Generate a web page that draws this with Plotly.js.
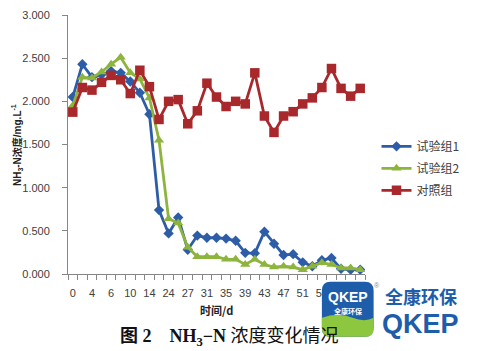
<!DOCTYPE html>
<html>
<head>
<meta charset="utf-8">
<script src="https://cdn.plot.ly/plotly-3.0.1.min.js"></script>
<style>html,body{margin:0;padding:0;background:#fff;}#chart{width:477px;height:351px;}</style>
</head>
<body>
<div id="chart"></div>
<script>
// ---- data ----
const days = ['0','2','4','5','6','8','10','12','14','19','24','25','27','29','31','33','35','37','39','41','43','45','47','49','51','53','55','57','59','61','63'];
const tickDays = ['0','4','6','10','14','24','27','31','35','39','43','47','51','55'];
const group1 = [2.05,2.43,2.28,2.31,2.35,2.33,2.23,2.10,1.85,0.74,0.47,0.655,0.28,0.445,0.42,0.42,0.41,0.385,0.245,0.24,0.49,0.35,0.22,0.23,0.135,0.09,0.16,0.185,0.06,0.05,0.05];
const group2 = [1.95,2.28,2.27,2.34,2.43,2.51,2.33,2.26,2.04,1.55,0.64,0.59,0.31,0.20,0.20,0.20,0.17,0.17,0.11,0.17,0.11,0.08,0.09,0.08,0.05,0.09,0.13,0.11,0.07,0.07,0.05];
const control = [1.875,2.16,2.13,2.22,2.30,2.25,2.09,2.36,2.17,1.79,2.00,2.02,1.74,1.89,2.21,2.05,1.94,2.00,1.97,2.33,1.83,1.64,1.83,1.88,1.97,2.04,2.16,2.38,2.15,2.06,2.15];
const names = ['试验组1','试验组2','对照组'];

// ---- layout helpers (pixel -> paper) ----
const L = 68, R = 378, T = 15, B = 274.3;
const px = x => (x - L) / (R - L);
const py = y => (B - y) / (B - T);

const blue = '#2E5DA8', green = '#8DB43C', red = '#A8282B';

const traces = [
  {x: days, y: group1, name: names[0], legendgroup: 'a', type: 'scatter', mode: 'lines+markers',
   line: {color: blue, width: 2.8}, marker: {symbol: 'diamond', size: 8, color: blue}},
  {x: days, y: group2, name: names[1], legendgroup: 'b', type: 'scatter', mode: 'lines+markers',
   line: {color: green, width: 2.8}, marker: {symbol: 'triangle-up', size: 9, color: green}},
  {x: days, y: control, name: names[2], legendgroup: 'c', type: 'scatter', mode: 'lines+markers',
   line: {color: red, width: 2.8}, marker: {symbol: 'square', size: 9.5, color: red}},
  {x: [], y: [], xaxis: 'x2', showlegend: false, hoverinfo: 'skip'}
];

function rrect(x0, y0, x1, y1, r) {
  return `M ${px(x0 + r)},${py(y0)} L ${px(x1 - r)},${py(y0)} Q ${px(x1)},${py(y0)} ${px(x1)},${py(y0 + r)} ` +
         `L ${px(x1)},${py(y1 - r)} Q ${px(x1)},${py(y1)} ${px(x1 - r)},${py(y1)} L ${px(x0 + r)},${py(y1)} ` +
         `Q ${px(x0)},${py(y1)} ${px(x0)},${py(y1 - r)} L ${px(x0)},${py(y0 + r)} Q ${px(x0)},${py(y0)} ${px(x0 + r)},${py(y0)} Z`;
}
const greenPath = `M ${px(333)},${py(318)} Q ${px(350)},${py(312)} ${px(365)},${py(318)} Q ${px(378)},${py(323)} ${px(387)},${py(318)} ` +
  `L ${px(387)},${py(329)} Q ${px(387)},${py(337)} ${px(379)},${py(337)} L ${px(341)},${py(337)} Q ${px(333)},${py(337)} ${px(333)},${py(329)} Z`;

const layout = {
  width: 477, height: 351,
  margin: {l: L, r: 477 - R, t: T, b: 351 - B, pad: 0},
  paper_bgcolor: '#fff', plot_bgcolor: '#fff',
  font: {family: 'Liberation Sans, Noto Sans CJK SC, sans-serif', color: '#404040', size: 11},
  showlegend: true,
  legend: {x: px(390), y: py(132), xanchor: 'left', yanchor: 'top', bgcolor: 'rgba(0,0,0,0)',
           tracegroupgap: 3,
           font: {family: 'Noto Sans CJK SC, sans-serif', size: 12, color: '#404040'}},
  xaxis: {type: 'category', categoryorder: 'array', categoryarray: days,
          range: [-0.5, days.length - 0.5],
          tickmode: 'array', tickvals: tickDays, ticktext: tickDays,
          ticks: '', showline: true, linecolor: '#868686', linewidth: 1,
          showgrid: false, zeroline: false, ticklabelstandoff: 9,
          tickfont: {size: 11, color: '#404040'}},
  xaxis2: {overlaying: 'x', anchor: 'y', range: [-0.5, days.length - 0.5], type: 'linear',
           tickmode: 'linear', tick0: -0.5, dtick: 1, ticks: 'outside', ticklen: 5,
           tickcolor: '#868686', showticklabels: false, showgrid: false, zeroline: false, showline: false},
  yaxis: {range: [0, 3], dtick: 0.5, tick0: 0, tickformat: '.3f', ticks: 'outside', ticklen: 5,
          tickcolor: '#868686', showline: true, linecolor: '#868686', linewidth: 1,
          showgrid: false, zeroline: false, ticklabelstandoff: 10,
          tickfont: {size: 11, color: '#404040'}},
  shapes: [
    {type: 'path', xref: 'paper', yref: 'paper', path: rrect(333, 282, 387, 337, 9),
     fillcolor: '#1D5DAA', line: {width: 0}, layer: 'above'},
    {type: 'path', xref: 'paper', yref: 'paper', path: greenPath,
     fillcolor: '#8DC63F', line: {width: 0}, layer: 'above'}
  ],
  annotations: [
    {text: '<b>NH<sub>3</sub>-N浓度/mg.L<sup>-1</sup></b>', xref: 'paper', yref: 'paper',
     x: px(15), y: py(145), xanchor: 'center', yanchor: 'middle', textangle: -90, showarrow: false,
     font: {family: 'Liberation Sans, Noto Sans CJK SC, sans-serif', size: 10, color: '#222'}},
    {text: '<b>时间/d</b>', xref: 'paper', yref: 'paper', x: px(223), y: py(310),
     xanchor: 'center', yanchor: 'middle', showarrow: false,
     font: {family: 'Noto Sans CJK SC, sans-serif', size: 11, color: '#222'}},
    {text: '<b>图 2　NH<sub>3</sub>−N</b> 浓度变化情况', xref: 'paper', yref: 'paper', x: px(237), y: py(338),
     xanchor: 'center', yanchor: 'middle', showarrow: false,
     font: {family: 'Liberation Serif, Noto Sans CJK SC, serif', size: 18, color: '#111'}},
    {text: '<b>QKEP</b>', xref: 'paper', yref: 'paper', x: px(360), y: py(297),
     xanchor: 'center', yanchor: 'middle', showarrow: false,
     font: {family: 'Liberation Sans, sans-serif', size: 14, color: '#fff'}},
    {text: '<b>全康环保</b>', xref: 'paper', yref: 'paper', x: px(360), y: py(311),
     xanchor: 'center', yanchor: 'middle', showarrow: false,
     font: {family: 'Noto Sans CJK SC, sans-serif', size: 7, color: '#fff'}},
    {text: '<b>全康环保</b>', xref: 'paper', yref: 'paper', x: px(436), y: py(296),
     xanchor: 'center', yanchor: 'middle', showarrow: false,
     font: {family: 'Noto Sans CJK SC, sans-serif', size: 18, color: '#1D5DAA'}},
    {text: '<b>QKEP</b>', xref: 'paper', yref: 'paper', x: px(436), y: py(324),
     xanchor: 'center', yanchor: 'middle', showarrow: false,
     font: {family: 'Liberation Sans, sans-serif', size: 27, color: '#1D5DAA'}},
    {text: '®', xref: 'paper', yref: 'paper', x: px(391), y: py(286),
     xanchor: 'center', yanchor: 'middle', showarrow: false,
     font: {family: 'Liberation Sans, sans-serif', size: 7, color: '#888'}}
  ]
};

Plotly.newPlot('chart', traces, layout, {displayModeBar: false, staticPlot: true});
</script>
</body>
</html>
